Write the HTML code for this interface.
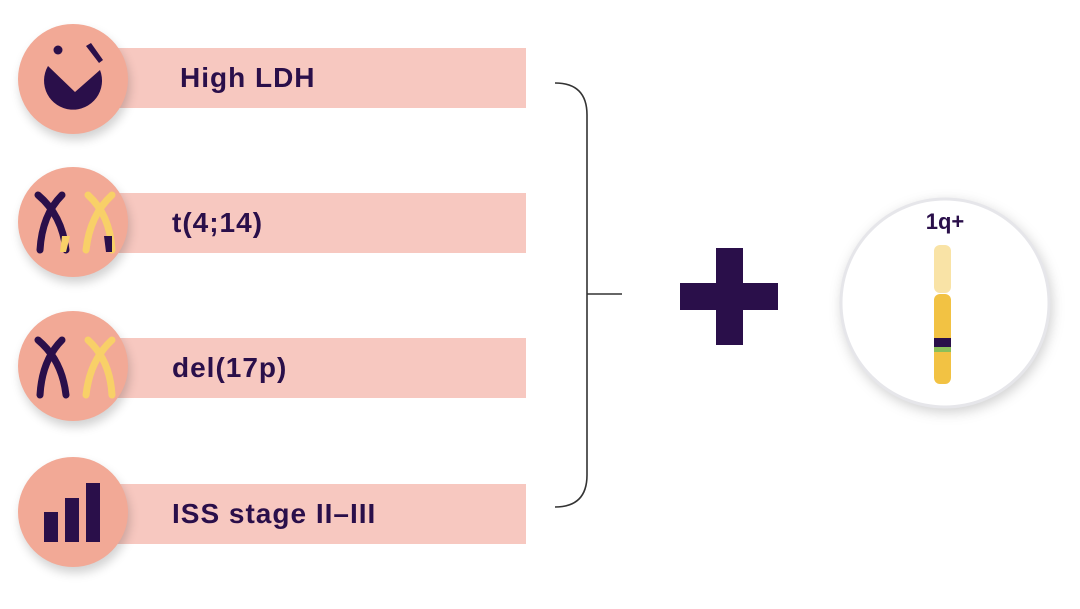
<!DOCTYPE html>
<html><head><style>
body{margin:0;width:1080px;height:609px;background:#fff;position:relative;overflow:hidden;font-family:"Liberation Sans",sans-serif;}
.bar{position:absolute;left:100px;width:426px;height:60px;background:#f7c8c0;}
.c{position:absolute;left:18px;width:110px;height:110px;border-radius:50%;background:#f2a996;box-shadow:2px 6px 10px rgba(0,0,0,0.18);}
.t{position:absolute;font-weight:bold;font-size:28px;letter-spacing:1px;color:#2a0f4a;}
</style></head><body>
<div class="bar" style="top:48px"></div>
<div class="bar" style="top:193px"></div>
<div class="bar" style="top:338px"></div>
<div class="bar" style="top:484px"></div>
<div class="c" style="top:24px"></div>
<div class="c" style="top:167px"></div>
<div class="c" style="top:311px"></div>
<div class="c" style="top:457px"></div>
<div class="t" style="left:180px;top:62px">High LDH</div>
<div class="t" style="left:172px;top:207px">t(4;14)</div>
<div class="t" style="left:172px;top:352px">del(17p)</div>
<div class="t" style="left:172px;top:498px">ISS stage II–III</div>
<svg width="1080" height="609" style="position:absolute;left:0;top:0">
<!-- LDH icon -->
<path d="M48,66 L75,92 L100,70 A29,29 0 1 1 48,66 Z" fill="#2a0f4a"/>
<circle cx="58" cy="50" r="4.5" fill="#2a0f4a"/>
<path d="M86,46 L91,43 L103,60 L99,63 Z" fill="#2a0f4a"/>
<g stroke-linecap="round" fill="none" stroke-width="7">
<path d="M38,195 Q62,215 66,250" stroke="#2a0f4a"/><path d="M62,195 Q42,215 40,250" stroke="#2a0f4a"/>
<path d="M88,195 Q110,215 112,250" stroke="#f8d068"/><path d="M112,195 Q90,215 86,250" stroke="#f8d068"/>
<path d="M38,340 Q62,360 66,395" stroke="#2a0f4a"/><path d="M62,340 Q42,360 40,395" stroke="#2a0f4a"/>
<path d="M88,340 Q110,360 112,395" stroke="#f8d068"/><path d="M112,340 Q90,360 86,395" stroke="#f8d068"/>
</g>
<path d="M104,236 L112,236 L112,252 L106,252 Z" fill="#2a0f4a"/>
<path d="M62,236 L70,236 L66,252 L60,252 Z" fill="#f8d068"/>
<rect x="44" y="512" width="14" height="30" fill="#2a0f4a"/>
<rect x="65" y="498" width="14" height="44" fill="#2a0f4a"/>
<rect x="86" y="483" width="14" height="59" fill="#2a0f4a"/>
<path d="M555,83 Q587,83 587,115 L587,475 Q587,507 555,507 M587,294 L622,294" stroke="#333" stroke-width="1.6" fill="none"/>
<rect x="680" y="283" width="98" height="27" fill="#2a0f4a"/>
<rect x="716" y="248" width="27" height="97" fill="#2a0f4a"/>
<circle cx="945" cy="303" r="104" fill="#fff" stroke="#e6e6ea" stroke-width="3" style="filter:drop-shadow(2px 4px 6px rgba(0,0,0,0.18))"/>
<text x="945" y="229" text-anchor="middle" font-family="Liberation Sans" font-weight="bold" font-size="22" fill="#2a0f4a">1q+</text>
<rect x="934" y="245" width="17" height="48" rx="6" fill="#f9e3a6"/>
<rect x="934" y="294" width="17" height="90" rx="6" fill="#f2c243"/>
<rect x="934" y="338" width="17" height="9" fill="#2a0f4a"/>
<rect x="934" y="347" width="17" height="5" fill="#8bbf5a"/>
</svg>
</body></html>
